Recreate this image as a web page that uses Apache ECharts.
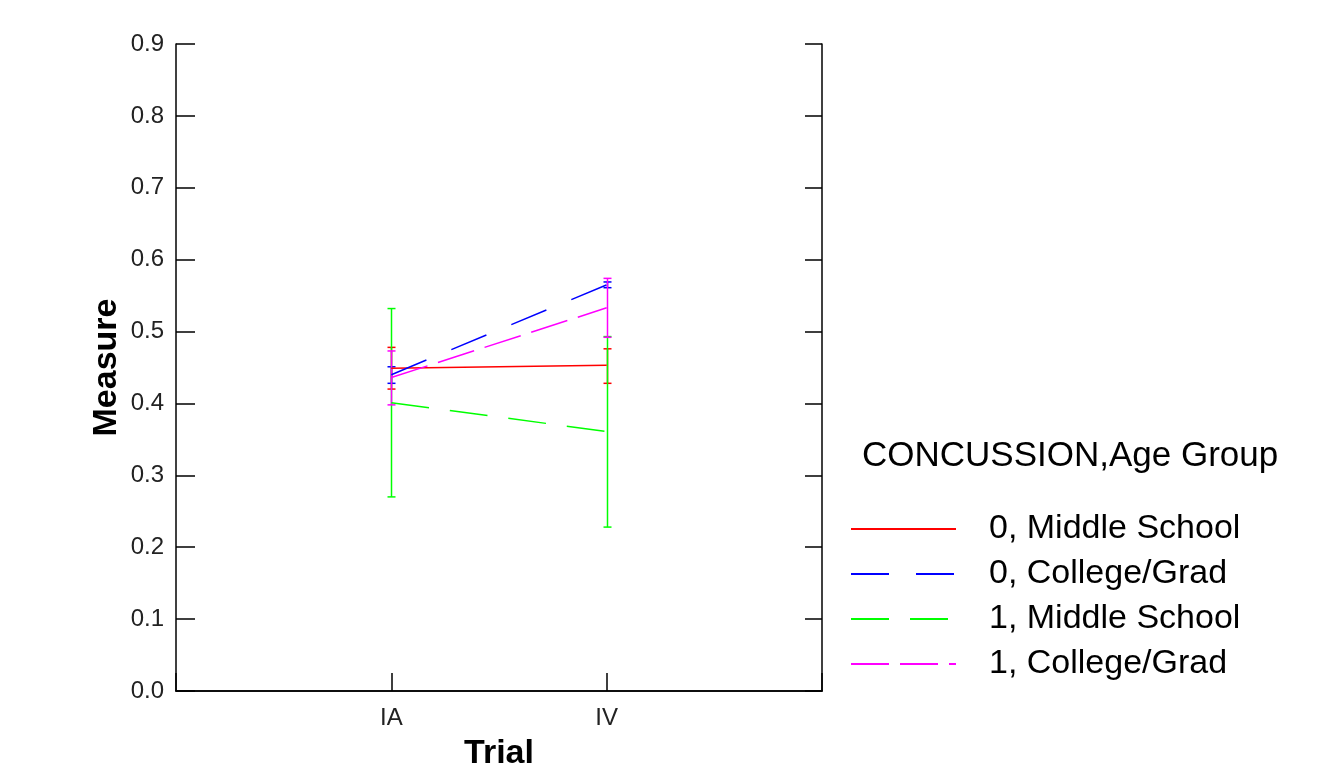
<!DOCTYPE html>
<html>
<head>
<meta charset="utf-8">
<script src="https://cdn.jsdelivr.net/npm/echarts@6/dist/echarts.min.js"></script>
<style>
  html, body { margin: 0; padding: 0; background: #fff; }
  #chart { width: 1336px; height: 768px; }
</style>
</head>
<body>
<div id="chart"></div>
<script>
var trials = ['IA', 'IV']
var yTicks = [0, 0.1, 0.2, 0.3, 0.4, 0.5, 0.6, 0.7, 0.8, 0.9]
var groupNames = ['0, Middle School', '0, College/Grad', '1, Middle School', '1, College/Grad']

// means per trial
var mean0Middle = [0.449, 0.453]
var mean0College = [0.440, 0.565]
var mean1Middle = [0.401, 0.361]
var mean1College = [0.436, 0.533]

// error bar low / high per trial
var low0Middle = [0.420, 0.428]
var high0Middle = [0.478, 0.476]
var low0College = [0.428, 0.561]
var high0College = [0.451, 0.569]
var low1Middle = [0.270, 0.228]
var high1Middle = [0.532, 0.493]
var low1College = [0.398, 0.492]
var high1College = [0.473, 0.574]

var colors = ['#ff0000', '#0000ff', '#00ff00', '#ff00ff']
var dashes = ['solid', [38, 27], [38, 21], [38, 11]]

var means = [mean0Middle, mean0College, mean1Middle, mean1College]
var lows = [low0Middle, low0College, low1Middle, low1College]
var highs = [high0Middle, high0College, high1Middle, high1College]

var font = 'Arial, "Liberation Sans", sans-serif'
var myChart = echarts.init(document.getElementById('chart'))

var series = []
groupNames.forEach(function (name, i) {
  series.push({
    name: name,
    type: 'line',
    symbol: 'none',
    data: trials.map(function (t, j) { return [t, means[i][j]] }),
    lineStyle: { color: colors[i], width: 1.5, type: dashes[i] },
    itemStyle: { color: colors[i] },
    z: 3
  })
  series.push({
    type: 'custom',
    data: trials.map(function (t, j) { return [t, lows[i][j], highs[i][j]] }),
    renderItem: function (params, api) {
      var lo = api.coord([api.value(0), api.value(1)])
      var hi = api.coord([api.value(0), api.value(2)])
      var x = Math.round(lo[0]) + 0.5
      var w = 4
      var st = { stroke: colors[i], lineWidth: 1.5 }
      return {
        type: 'group',
        children: [
          { type: 'line', shape: { x1: x, y1: lo[1], x2: x, y2: hi[1] }, style: st },
          { type: 'line', shape: { x1: x - w, y1: lo[1], x2: x + w, y2: lo[1] }, style: st },
          { type: 'line', shape: { x1: x - w, y1: hi[1], x2: x + w, y2: hi[1] }, style: st }
        ]
      }
    },
    z: 2
  })
})

var option = {
  animation: false,
  backgroundColor: '#fff',
  title: {
    text: 'CONCUSSION,Age Group',
    left: 857,
    top: 434,
    textStyle: { fontFamily: font, fontSize: 35, fontWeight: 'normal', color: '#000' }
  },
  legend: {
    data: groupNames,
    orient: 'vertical',
    left: 845,
    top: 507,
    itemWidth: 105,
    itemHeight: 14,
    itemGap: 11,
    itemStyle: { opacity: 0 },
    textStyle: { fontFamily: font, fontSize: 34, color: '#000', padding: [0, 0, 0, 28] }
  },
  grid: { left: 176, right: 514, top: 44, bottom: 77, outerBoundsMode: 'none', containLabel: false },
  xAxis: [{
    type: 'category',
    data: [''].concat(trials).concat(['']),
    boundaryGap: false,
    name: 'Trial',
    nameLocation: 'middle',
    nameGap: 46,
    nameTextStyle: { fontFamily: font, fontSize: 34, fontWeight: 'bold', color: '#000' },
    axisLine: { show: true, lineStyle: { color: '#000', width: 1.5 } },
    axisTick: { show: true, inside: true, length: 18, lineStyle: { color: '#000', width: 1.5 } },
    axisLabel: { fontFamily: font, fontSize: 24, color: '#222', margin: 15 },
    splitLine: { show: false }
  }, {
    type: 'category',
    position: 'top',
    data: [''].concat(trials).concat(['']),
    boundaryGap: false,
    axisLine: { show: true, lineStyle: { color: '#000', width: 1.5 } },
    axisTick: { show: false },
    axisLabel: { show: false },
    splitLine: { show: false }
  }],
  yAxis: [{
    type: 'value',
    min: 0,
    max: 0.9,
    interval: 0.1,
    name: 'Measure',
    nameLocation: 'middle',
    nameGap: 52,
    nameTextStyle: { fontFamily: font, fontSize: 34, fontWeight: 'bold', color: '#000' },
    axisLine: { show: true, lineStyle: { color: '#000', width: 1.5 } },
    axisTick: { show: true, inside: true, length: 19, lineStyle: { color: '#000', width: 1.5 } },
    axisLabel: {
      fontFamily: font, fontSize: 24, color: '#222', margin: 12,
      formatter: function (v) { return v.toFixed(1) }
    },
    splitLine: { show: false }
  }, {
    type: 'value',
    position: 'right',
    min: 0,
    max: 0.9,
    interval: 0.1,
    axisLine: { show: true, lineStyle: { color: '#000', width: 1.5 } },
    axisTick: { show: true, inside: true, length: 17, lineStyle: { color: '#000', width: 1.5 } },
    axisLabel: { show: false },
    splitLine: { show: false }
  }],
  series: series
}

myChart.setOption(option)
</script>
</body>
</html>
